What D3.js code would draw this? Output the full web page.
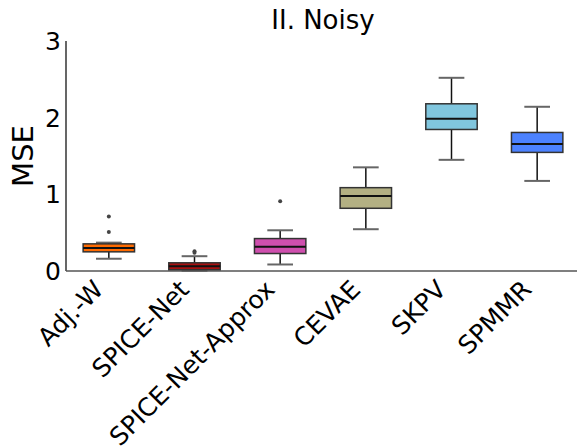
<!DOCTYPE html>
<html>
<head>
<meta charset="utf-8">
<script src="https://cdn.jsdelivr.net/npm/d3@7"></script>
<style>
  body { margin: 0; background: #fff; }
  text { font-family: "DejaVu Sans", sans-serif; }
</style>
</head>
<body>
<div id="chart"></div>
<script>
'use strict';

const methods  = ["Adj.-W", "SPICE-Net", "SPICE-Net-Approx", "CEVAE", "SKPV", "SPMMR"];
const colors   = ["#ff6a00", "#a81010", "#cf4fae", "#b3b083", "#80c6de", "#4c82ff"];
const whiskLo  = [0.16, 0.00, 0.085, 0.545, 1.45, 1.175];
const q1       = [0.25, 0.016, 0.228, 0.818, 1.846, 1.547];
const median   = [0.30, 0.063, 0.315, 0.979, 1.986, 1.656];
const q3       = [0.354, 0.107, 0.423, 1.087, 2.181, 1.807];
const whiskHi  = [0.37, 0.193, 0.531, 1.352, 2.52, 2.142];
const outliers = [[0.71, 0.51], [0.258, 0.237], [0.909], [], [], []];
const yTicks   = [0, 1, 2, 3];

const width = 577, height = 447;
const margin = { top: 41, right: -3, bottom: 176, left: 66 };

const svg = d3.select("#chart")
	.append("svg")
		.attr("width", width)
		.attr("height", height);

const x = d3.scaleLinear()
	.domain([0.5, methods.length + 0.5])
	.range([margin.left, width - margin.right]);

const y = d3.scaleLinear()
	.domain([0, 3])
	.range([height - margin.bottom, margin.top]);

const boxW = (x(1.6) - x(1));   // 0.6 of a step
const capW = boxW * 0.5;

const data = methods.map((m, i) => ({
	name: m, pos: i + 1, color: colors[i],
	lo: whiskLo[i], q1: q1[i], med: median[i], q3: q3[i], hi: whiskHi[i],
	out: outliers[i]
}));

// spines
svg.append("line")
	.attr("x1", margin.left).attr("x2", margin.left)
	.attr("y1", y(3)).attr("y2", y(0))
	.attr("stroke", "#000").attr("stroke-width", 1.2);
svg.append("line")
	.attr("x1", margin.left).attr("x2", width)
	.attr("y1", y(0)).attr("y2", y(0))
	.attr("stroke", "#555").attr("stroke-width", 1.4);

// y tick labels
svg.selectAll("text.ytick")
	.data(yTicks)
	.join("text")
		.attr("class", "ytick")
		.attr("x", margin.left - 5)
		.attr("y", d => y(d))
		.attr("dy", "0.36em")
		.attr("text-anchor", "end")
		.attr("font-size", 25)
		.text(d => d);

// y label
svg.append("text")
	.attr("transform", `translate(33, ${y(1.5)}) rotate(-90)`)
	.attr("text-anchor", "middle")
	.attr("font-size", 29)
	.text("MSE");

// title
svg.append("text")
	.attr("x", 323)
	.attr("y", 29)
	.attr("text-anchor", "middle")
	.attr("font-size", 26)
	.text("II. Noisy");

const g = svg.selectAll("g.box")
	.data(data)
	.join("g")
		.attr("class", "box");

// whiskers
g.append("line")
	.attr("x1", d => x(d.pos)).attr("x2", d => x(d.pos))
	.attr("y1", d => y(d.q3)).attr("y2", d => y(d.hi))
	.attr("stroke", "#111").attr("stroke-width", 1.5);
g.append("line")
	.attr("x1", d => x(d.pos)).attr("x2", d => x(d.pos))
	.attr("y1", d => y(d.q1)).attr("y2", d => y(d.lo))
	.attr("stroke", "#111").attr("stroke-width", 1.5);

// caps
["hi", "lo"].forEach(k => {
	g.append("line")
		.attr("x1", d => x(d.pos) - capW / 2).attr("x2", d => x(d.pos) + capW / 2)
		.attr("y1", d => y(d[k])).attr("y2", d => y(d[k]))
		.attr("stroke", "#666").attr("stroke-width", 2);
});

// boxes
g.append("rect")
	.attr("x", d => x(d.pos) - boxW / 2)
	.attr("width", boxW)
	.attr("y", d => y(d.q3))
	.attr("height", d => y(d.q1) - y(d.q3))
	.attr("fill", d => d.color)
	.attr("stroke", "#333")
	.attr("stroke-width", 1.5);

// medians
g.append("line")
	.attr("x1", d => x(d.pos) - boxW / 2).attr("x2", d => x(d.pos) + boxW / 2)
	.attr("y1", d => y(d.med)).attr("y2", d => y(d.med))
	.attr("stroke", "#111").attr("stroke-width", 2);

// fliers
g.selectAll("circle")
	.data(d => d.out.map(v => ({ pos: d.pos, v })))
	.join("circle")
		.attr("cx", d => x(d.pos))
		.attr("cy", d => y(d.v))
		.attr("r", 2)
		.attr("fill", "#444");

// x tick labels, rotated 45
svg.selectAll("text.xtick")
	.data(data)
	.join("text")
		.attr("class", "xtick")
		.attr("transform", d => `translate(${x(d.pos) - 4}, ${y(0) + 20}) rotate(-45)`)
		.attr("text-anchor", "end")
		.attr("font-size", 25)
		.text(d => d.name);
</script>
</body>
</html>
